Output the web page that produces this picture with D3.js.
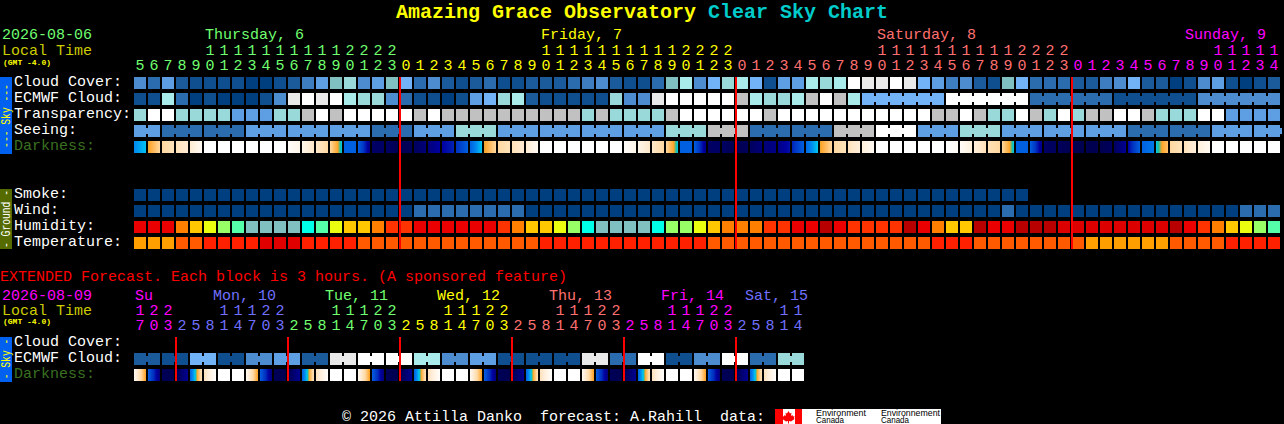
<!DOCTYPE html>
<html><head><meta charset="utf-8">
<script src="https://cdn.jsdelivr.net/npm/d3@7"></script>
<style>
html,body{margin:0;padding:0;background:#000;overflow:hidden}
svg{display:block}
text{font-family:"Liberation Mono",monospace;font-size:15px;white-space:pre}
</style></head><body>
<script>
// ---------- main chart (one block per hour) ----------
const hours = [5,6,7,8,9,10,11,12,13,14,15,16,17,18,19,20,21,22,23,
 0,1,2,3,4,5,6,7,8,9,10,11,12,13,14,15,16,17,18,19,20,21,22,23,
 0,1,2,3,4,5,6,7,8,9,10,11,12,13,14,15,16,17,18,19,20,21,22,23,
 0,1,2,3,4,5,6,7,8,9,10,11,12,13,14];
const dayLabels = ["Thursday, 6","Friday, 7","Saturday, 8","Sunday, 9"];
const dayColors = ["#70ff70","#ffff00","#ff7070","#ff00ff"];
const dayBlocks = [19,24,24,15];
const rowLabels = ["Cloud Cover:","ECMWF Cloud:","Transparency:","Seeing:","Darkness:"];
const groundLabels = ["Smoke:","Wind:","Humidity:","Temperature:"];

// sky level: 0 clear .. 10 cyan, 11 light grey, 12 white, 13 mid grey
const cloudCover = [5,3,6,2,1,1,1,1,0,0,1,2,4,6,8,9,5,6,8,
 7,3,5,2,1,2,3,1,1,2,2,2,3,4,5,2,1,1,3,8,10,5,7,9,
 10,7,1,6,6,10,9,10,12,11,11,12,11,7,6,4,5,2,1,8,7,3,3,3,
 2,2,4,5,7,2,2,0,1,5,6,1,0,1,2];
const ecmwfCloud = [1,1,10,3,0,1,0,0,0,1,5,11,12,11,12,10,9,9,5,
 3,1,1,0,1,6,7,9,10,2,1,1,1,1,1,9,5,5,11,12,12,12,12,12,
 13,10,9,9,10,13,12,13,10,7,7,7,7,7,7,12,12,12,12,12,12,3,3,3,
 3,3,3,1,1,1,1,1,1,5,5,5,5,5,5];
const transparency = [9,12,12,9,9,9,9,6,6,6,9,9,13,12,13,12,12,12,12,
 12,13,12,13,13,13,13,13,13,13,13,13,13,9,13,9,9,9,9,13,12,12,12,12,
 12,12,13,12,12,12,12,12,12,12,12,12,12,12,13,13,12,13,9,9,12,13,9,12,
 9,13,13,12,12,13,9,9,9,12,12,6,6,6,6];
const seeing = [6,6,3,3,3,3,3,3,6,6,6,6,6,6,6,6,6,3,3,
 3,6,6,6,9,9,9,6,6,6,6,6,6,6,6,6,6,6,6,9,9,9,13,13,
 13,3,3,3,3,3,3,13,13,13,12,12,12,6,6,6,9,9,9,6,6,6,6,6,
 6,6,6,6,3,3,3,3,3,3,6,6,6,6,6];
const seeingRuns = [2,3,3,3,3,3,3,3,3,3,3,3,3,3,3,3,3,3,3,3,3,3,3,3,3,3,3,3,2];
const ecmwfRuns = [1,1,1,1,1,1,1,1,1,1,1,1,1,1,1,1,1,1,1,1,1,1,1,1,1,1,
 1,1,1,1,1,1,1,1,1,1,1,1,1,1,1,1,1,1,1,1,1,1,1,1,1,1,6,6,6,6,6];
// darkness level at the left and right edge of each block
const darkFrom = [6,4.4,3,2.4,1.8,0,0,0,0,0,0,.3,1,2,3,7,7,9.5,9.5,
 9.8,9.6,9.2,8.6,8,7,4.4,3,2.4,1.8,0,0,0,0,0,0,.3,1,2,3,7,7,9.5,9.5,
 9.8,9.6,9.2,9,8.2,6.8,4.4,3,2.4,1.5,0,0,0,0,0,0,.4,1.5,2.5,3,7,7,9.5,9.6,
 9.8,9.8,9.8,9.6,8.6,7,5,3,2.4,1.5,0,0,0,0,0];
const darkTo = [5.1,3,2.4,1.8,.6,0,0,0,0,0,0,1,2,3,5,7,9,9.5,9.8,
 9.6,9.2,8.6,8.2,7,5,3,2.4,1.8,.6,0,0,0,0,0,0,1,2,3,5,7,9,9.5,9.8,
 9.6,9.2,9,8.4,7,5,3,2.4,1.5,.6,0,0,0,0,0,.4,1.5,2.5,3,5,7,9,9.6,9.8,
 9.8,9.8,9.6,8.8,7,6.4,3.6,2.4,1.5,.6,0,0,0,0,0];
const smoke = [0,0,0,0,0,0,0,0,0,0,0,0,0,0,0,0,0,0,0,
 0,0,0,0,0,0,0,0,0,0,0,0,0,0,0,0,0,0,0,0,0,0,0,0,
 0,0,0,0,0,0,0,0,0,0,0,0,0,0,0,0,0,0,0,0,0];
const wind = [0,0,0,0,0,0,0,0,0,0,0,0,0,0,0,0,0,0,0,
 0,3,3,3,3,3,3,3,3,0,0,0,0,0,0,0,0,0,0,0,0,0,0,0,
 0,0,0,0,0,0,0,0,0,0,0,0,0,0,0,0,0,0,0,3,0,0,0,0,
 0,0,0,0,0,0,0,0,0,0,0,0,3,3,3];
const humidity = ["R","R","R","O","Y","YL","LM","MT","T","T","T","T","C","MT","YL","Y","Y","O","RO",
 "RO","R","R","R","R","R","R","RO","O","Y","Y","YL","LM","C","T","T","T","T","C","LM","LM","YL","Y","O",
 "O","O","RO","RO","R","R","DR","R","RO","RO","RO","RO","DR","R","O","Y","Y","DR","R","R","DR","DR","DR","R2",
 "R2","R2","R2","R2","R2","R2","R2","DR","R","RO","O","Y","YL","LM","MT"];
const temperature = ["A","A","A","O","O","RO","RO","RO","RO","R","R","R","RO","RO","RO","RO","O","O","O",
 "O","O","O","O","O","O","O","O","O","O","RO","RO","RO","RO","RO","RO","RO","RO","RO","RO","RO","RO","O","O",
 "O","O","O","O","O","O","O","O","O","O","O","O","O","O","RO","RO","RO","O","O","O","O","O","O","O",
 "O","A","A","A","A","A","A","O","O","O","O","RO","RO","RO","RO"];

// ---------- extended chart (one block per 3 hours) ----------
const extHours = [17,20,23,
 2,5,8,11,14,17,20,23, 2,5,8,11,14,17,20,23, 2,5,8,11,14,17,20,23,
 2,5,8,11,14,17,20,23, 2,5,8,11,14,17,20,23, 2,5,8,11,14];
const extDayLabels = ["Su","Mon, 10","Tue, 11","Wed, 12","Thu, 13","Fri, 14","Sat, 15"];
const extDayColors = ["#ff00ff","#7070ff","#70ff70","#ffff00","#ff7070","#ff00ff","#7070ff"];
const extDayBlocks = [3,8,8,8,8,8,5];
const extEcmwf = [2,2,1,1,7,7,1,1,5,5,6,6,2,2,11,11,12,12,12,12,10,10,5,5,
 6,6,1,1,1,1,1,1,11,11,3,3,12,12,1,1,5,5,12,12,3,3,9,9];
const extDarkFrom = [.8,7,9.7,9.8,7,2.4,0,0,.8,7,9.7,9.8,7,2.4,0,0,.8,7,9.7,9.8,7,2.4,0,0,
 .8,7,9.7,9.8,7,2.4,0,0,.8,7,9.7,9.8,7,2.4,0,0,.8,7,9.7,9.8,7,2.4,0,0];
const extDarkTo = [4.4,9.2,9.8,8.8,2.4,.2,0,0,4.4,9.2,9.8,8.8,2.4,.2,0,0,4.4,9.2,9.8,8.8,2.4,.2,0,0,
 4.4,9.2,9.8,8.8,2.4,.2,0,0,4.4,9.2,9.8,8.8,2.4,.2,0,0,4.4,9.2,9.8,8.8,2.4,.2,0,0];

// ---------- colour keys ----------
const skyColor = d3.scaleOrdinal([0,1,2,3,4,5,6,7,8,9,10,11,12,13],
 ["#003f7f","#0f4f90","#1b5b9c","#2b6cae","#3d7dc0","#4d8dcf","#5e9ee2","#72b3f8","#80c0c0","#99d9d9","#a9eaea","#e9e9e9","#ffffff","#c1c1c1"]);
const humColor = d3.scaleOrdinal(["DR","R","R2","RO","O","Y","YL","LM","MT","T","C"],
 ["#b80000","#ea0000","#dd0000","#ff3300","#ff8000","#ffc800","#eaff10","#99ff66","#55ffaa","#80c0c0","#00ffe8"]);
const tempColor = d3.scaleOrdinal(["A","O","RO","R"],["#ffa000","#ff5a00","#ff2000","#e00000"]);
const darkColor = d3.scaleLinear()
 .domain([0,1,2,3,4.3,4.7,5,6,7,8,8.6,9.2,9.8])
 .range(["#ffffff","#fff6ea","#ffe8cc","#ffd8a0","#ffa428","#20c0a0","#00c8f0","#0088f0","#0060e0","#0030c0","#0000a0","#000078","#000050"]);

// ---------- layout ----------
const W=1284,H=424, pitch=14, block=12, left=134;
const x = d3.scaleLinear().domain([0,1]).range([left,left+pitch]);
const svg = d3.select("body").append("svg").attr("width",W).attr("height",H);
svg.append("rect").attr("width",W).attr("height",H).attr("fill","#000");

function txt(s,px,py,fill,extra){
  const t=svg.append("text").attr("x",px).attr("y",py).attr("fill",fill).text(s);
  if(extra) extra(t); return t;
}
function cells(values,color,y){
  svg.append("g").attr("shape-rendering","crispEdges").selectAll("rect").data(values).join("rect")
   .attr("x",(d,i)=>x(i)).attr("y",y).attr("width",block).attr("height",block).attr("fill",color);
}
// the blocks of one forecast period are joined by a bridge across the gap
function bridges(values,runs,color,y){
  let start=0; const joins=[];
  runs.forEach(r=>{ for(let k=start;k<start+r-1;k++) joins.push(k); start+=r; });
  svg.append("g").attr("shape-rendering","crispEdges").selectAll("rect").data(joins).join("rect")
   .attr("x",k=>x(k)+block).attr("y",y+3).attr("width",pitch-block).attr("height",block-6).attr("fill",k=>color(values[k]));
}
function darkCells(from,to,y){
  const columns=[];
  from.forEach((a,i)=>{ const interp=d3.interpolateNumber(a,to[i]);
    d3.range(block).forEach(c=>columns.push({i,c,v:interp((c+.5)/block)})); });
  svg.append("g").attr("shape-rendering","crispEdges").selectAll("rect").data(columns).join("rect")
   .attr("x",d=>x(d.i)+d.c).attr("y",y).attr("width",1).attr("height",block).attr("fill",d=>darkColor(d.v));
}
function hourLabels(hs,blocks,colors,tensY,unitsY){
  const colorAt=[]; blocks.forEach((n,k)=>{for(let j=0;j<n;j++) colorAt.push(colors[k]);});
  hs.forEach((h,i)=>{
    if(h>=10) txt(String(Math.floor(h/10)),x(i)+block/2,tensY,colorAt[i],t=>t.attr("text-anchor","middle"));
    txt(String(h%10),x(i)+block/2,unitsY,colorAt[i],t=>t.attr("text-anchor","middle"));
  });
}
function redLines(xs,y0,y1){
  svg.append("g").attr("shape-rendering","crispEdges").selectAll("rect").data(xs).join("rect")
   .attr("x",d=>x(d)-1).attr("y",y0).attr("width",2).attr("height",y1-y0).attr("fill","#ff0000");
}
function sideBox(y0,y1,fill,textFill,label,cy){
  svg.append("rect").attr("x",0).attr("y",y0).attr("width",12).attr("height",y1-y0).attr("fill",fill).attr("shape-rendering","crispEdges");
  svg.append("text").attr("transform",`translate(10,${cy}) rotate(-90)`)
   .attr("text-anchor","middle").attr("fill",textFill).style("font-size","12px")
   .attr("textLength",label.length*5.8).attr("lengthAdjust","spacingAndGlyphs").text(label);
}

// title
svg.append("text").attr("x",396).attr("y",18).style("font-size","20px").style("font-weight","bold")
  .call(t=>{t.append("tspan").attr("fill","#ffff00").text("Amazing Grace Observatory ");
            t.append("tspan").attr("fill","#00cccc").text("Clear Sky Chart");});

// header
const gmt=t=>t.style("font-size","8px").style("font-weight","bold");
txt("2026-08-06",2,39,"#70ff70");
txt("Local Time",2,55,"#cccc00");
txt("(GMT -4.0)",3,65,"#ffff00",gmt);
const dayLabelBlock=[5,29,53,75];
dayLabels.forEach((d,k)=>txt(d,x(dayLabelBlock[k])+1,39,dayColors[k]));
hourLabels(hours,dayBlocks,dayColors,55,70);

// sky rows
const rowY=[77,93,109,125,141];
rowLabels.forEach((l,k)=>txt(l,14,rowY[k]+9,k===4?"#3a7020":"#ffffff"));
cells(cloudCover,skyColor,rowY[0]);
cells(ecmwfCloud,skyColor,rowY[1]);
cells(transparency,skyColor,rowY[2]);
cells(seeing,skyColor,rowY[3]);
bridges(seeing,seeingRuns,skyColor,rowY[3]);
bridges(ecmwfCloud,ecmwfRuns,skyColor,rowY[1]);
darkCells(darkFrom,darkTo,rowY[4]);
sideBox(77,154,"#0060f0","#ffff00","--- Sky ---",116);

// ground rows
const groundY=[189,205,221,237];
groundLabels.forEach((l,k)=>txt(l,14,groundY[k]+9,"#ffffff"));
cells(smoke,skyColor,groundY[0]);
cells(wind,skyColor,groundY[1]);
cells(humidity,humColor,groundY[2]);
cells(temperature,tempColor,groundY[3]);
sideBox(189,249,"#556b00","#ffffff","- Ground -",219);
redLines([19,43,67],77,249);

// extended
txt("EXTENDED Forecast. Each block is 3 hours. (A sponsored feature)",0,281,"#ff0000");
txt("2026-08-09",2,300,"#ff00ff");
txt("Local Time",2,315,"#cccc00");
txt("(GMT -4.0)",3,324,"#ffff00",gmt);
const extLabelBlock=[0,5.57,13.57,21.57,29.57,37.57,43.57];
extDayLabels.forEach((d,k)=>txt(d,x(extLabelBlock[k])+1,300,extDayColors[k]));
hourLabels(extHours,extDayBlocks,extDayColors,315,330);
const extY=[337,353,369];
txt("Cloud Cover:",14,346,"#ffffff");
txt("ECMWF Cloud:",14,extY[1]+9,"#ffffff");
txt("Darkness:",14,extY[2]+9,"#3a7020");
cells(extEcmwf,skyColor,extY[1]);
bridges(extEcmwf,d3.range(24).map(()=>2),skyColor,extY[1]);
darkCells(extDarkFrom,extDarkTo,extY[2]);
sideBox(337,382,"#0060f0","#ffff00","- Sky -",359);
redLines([3,11,19,27,35,43],337,381);

// footer
txt("\u00a9 2026 Attilla Danko  forecast: A.Rahill  data:",342,421,"#ffffff");
const logo=svg.append("g").attr("transform","translate(775,409)");
logo.append("rect").attr("width",166).attr("height",15).attr("fill","#fff");
logo.append("rect").attr("width",8).attr("height",15).attr("fill","#ff0000");
logo.append("rect").attr("x",20).attr("width",7).attr("height",15).attr("fill","#ff0000");
logo.append("path").attr("fill","#ff0000").attr("d","M13.5 2L15 4.500L16.500 3.800L16 7L17.500 6L18 7.500L19.500 7L19 9L19.500 10L16 12.500L14 12L14 14.500L13 14.500L13 12L11 12.500L7.500 10L8 9L7.500 7L9 7.500L9.500 6L11 7L10.500 3.800L12 4.500Z");
const small=(s,px,py,len)=>logo.append("text").attr("x",px).attr("y",py).attr("fill","#000")
  .style("font-family","'Liberation Sans',sans-serif").style("font-size","9px")
  .attr("textLength",len).attr("lengthAdjust","spacingAndGlyphs").text(s);
small("Environment",41,6.5,50); small("Canada",41,14,28);
small("Environnement",106,6.5,59); small("Canada",106,14,28);
</script>
</body></html>
